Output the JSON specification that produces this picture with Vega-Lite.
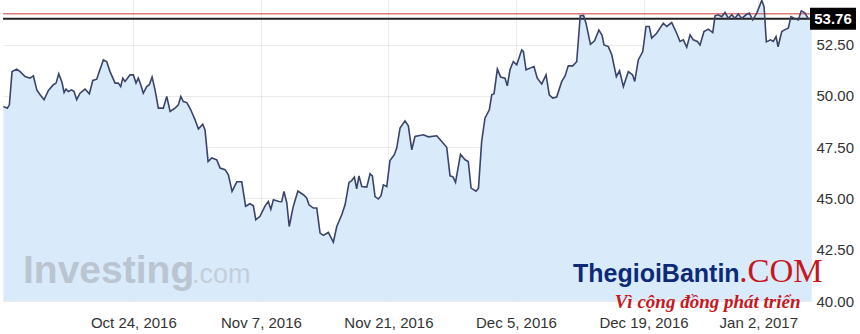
{
  "$schema": "https://vega.github.io/schema/vega-lite/v6.json",
  "width": 809,
  "height": 301,
  "autosize": {"type": "none"},
  "padding": {"left": 3, "top": 0, "right": 48, "bottom": 33},
  "background": "#ffffff",
  "config": {
    "view": {"stroke": null},
    "font": "Liberation Sans",
    "axis": {"labelFont": "Liberation Sans", "labelFontSize": 15, "labelColor": "#333333", "domain": false, "ticks": false, "gridColor": "#000000", "gridOpacity": 0.08, "title": null}
  },
  "datasets": {
    "one": [{}],
    "price": [
      {"d":-10.19,"v":49.48},{"d":-9.88,"v":49.40},{"d":-9.72,"v":49.56},{"d":-9.51,"v":51.18},{"d":-9.14,"v":51.30},{"d":-8.88,"v":51.18},{"d":-8.49,"v":50.94},{"d":-8.10,"v":50.86},{"d":-7.84,"v":50.97},{"d":-7.57,"v":50.29},
      {"d":-7.31,"v":50.05},{"d":-7.00,"v":49.81},{"d":-6.66,"v":50.26},{"d":-6.27,"v":50.54},{"d":-6.06,"v":50.62},{"d":-5.85,"v":51.07},{"d":-5.59,"v":50.65},{"d":-5.43,"v":50.16},{"d":-5.28,"v":50.33},{"d":-5.10,"v":50.21},
      {"d":-4.83,"v":50.29},{"d":-4.65,"v":50.21},{"d":-4.44,"v":49.81},{"d":-4.18,"v":50.13},{"d":-3.79,"v":50.33},{"d":-3.45,"v":50.10},{"d":-3.18,"v":50.75},{"d":-2.87,"v":50.81},{"d":-2.67,"v":51.18},{"d":-2.35,"v":51.75},
      {"d":-2.09,"v":51.67},{"d":-1.83,"v":51.18},{"d":-1.43,"v":50.62},{"d":-1.18,"v":50.62},{"d":-0.99,"v":50.45},{"d":-0.83,"v":50.86},{"d":-0.65,"v":50.70},{"d":-0.26,"v":51.02},{"d":0.00,"v":51.02},{"d":0.21,"v":50.62},
      {"d":0.39,"v":50.86},{"d":0.58,"v":50.54},{"d":0.78,"v":50.13},{"d":1.05,"v":50.45},{"d":1.25,"v":50.54},{"d":1.47,"v":50.91},{"d":1.70,"v":50.29},{"d":1.96,"v":49.40},{"d":2.35,"v":49.40},{"d":2.62,"v":49.97},
      {"d":2.88,"v":49.24},{"d":3.27,"v":49.40},{"d":3.53,"v":49.56},{"d":3.72,"v":49.97},{"d":3.92,"v":49.72},{"d":4.19,"v":49.67},{"d":4.50,"v":49.32},{"d":4.84,"v":48.83},{"d":5.10,"v":48.38},{"d":5.44,"v":48.62},
      {"d":5.62,"v":48.34},{"d":5.86,"v":46.80},{"d":6.15,"v":46.97},{"d":6.54,"v":46.88},{"d":6.80,"v":46.48},{"d":7.19,"v":46.40},{"d":7.45,"v":46.15},{"d":7.74,"v":45.34},{"d":8.11,"v":45.81},{"d":8.50,"v":45.81},
      {"d":8.80,"v":44.62},{"d":9.15,"v":44.74},{"d":9.41,"v":44.64},{"d":9.60,"v":43.96},{"d":9.93,"v":44.13},{"d":10.33,"v":44.64},{"d":10.58,"v":44.85},{"d":10.78,"v":44.47},{"d":10.98,"v":44.93},{"d":11.42,"v":44.85},
      {"d":11.63,"v":44.84},{"d":11.81,"v":45.34},{"d":12.03,"v":44.79},{"d":12.22,"v":43.63},{"d":12.54,"v":44.61},{"d":12.90,"v":45.36},{"d":13.33,"v":45.18},{"d":13.59,"v":45.02},{"d":13.77,"v":44.69},{"d":14.11,"v":44.53},
      {"d":14.38,"v":44.53},{"d":14.64,"v":43.31},{"d":14.90,"v":43.20},{"d":15.29,"v":43.34},{"d":15.68,"v":42.87},{"d":15.95,"v":43.63},{"d":16.34,"v":44.20},{"d":16.60,"v":44.69},{"d":16.91,"v":45.78},{"d":17.12,"v":45.87},
      {"d":17.33,"v":46.04},{"d":17.51,"v":45.46},{"d":17.69,"v":46.10},{"d":17.91,"v":45.58},{"d":18.30,"v":45.55},{"d":18.56,"v":46.20},{"d":18.74,"v":46.10},{"d":18.95,"v":45.09},{"d":19.21,"v":44.97},{"d":19.42,"v":45.13},
      {"d":19.60,"v":45.66},{"d":19.87,"v":45.58},{"d":20.12,"v":46.85},{"d":20.46,"v":47.13},{"d":20.65,"v":47.45},{"d":20.91,"v":48.43},{"d":21.30,"v":48.78},{"d":21.56,"v":48.54},{"d":21.83,"v":47.37},{"d":22.08,"v":48.02},
      {"d":22.74,"v":48.10},{"d":23.13,"v":48.00},{"d":23.79,"v":48.05},{"d":24.18,"v":47.77},{"d":24.57,"v":47.49},{"d":24.83,"v":46.10},{"d":25.06,"v":46.05},{"d":25.26,"v":45.78},{"d":25.65,"v":47.15},{"d":26.01,"v":46.88},
      {"d":26.26,"v":46.80},{"d":26.48,"v":45.50},{"d":26.87,"v":45.35},{"d":27.06,"v":45.50},{"d":27.31,"v":47.78},{"d":27.57,"v":48.91},{"d":27.91,"v":49.32},{"d":28.10,"v":50.05},{"d":28.28,"v":50.10},{"d":28.54,"v":51.30},
      {"d":28.80,"v":50.91},{"d":29.14,"v":50.86},{"d":29.32,"v":50.49},{"d":29.53,"v":51.27},{"d":29.79,"v":51.67},{"d":30.06,"v":51.51},{"d":30.45,"v":52.24},{"d":30.58,"v":52.16},{"d":30.79,"v":51.27},{"d":31.10,"v":51.35},
      {"d":31.41,"v":51.43},{"d":31.67,"v":50.86},{"d":32.02,"v":50.58},{"d":32.36,"v":51.02},{"d":32.61,"v":50.05},{"d":32.88,"v":49.89},{"d":33.19,"v":49.94},{"d":33.59,"v":50.70},{"d":33.85,"v":50.97},{"d":34.10,"v":51.46},
      {"d":34.45,"v":51.46},{"d":34.76,"v":51.66},{"d":35.04,"v":53.90},{"d":35.30,"v":53.92},{"d":35.49,"v":53.54},{"d":35.84,"v":52.51},{"d":36.16,"v":52.68},{"d":36.50,"v":53.21},{"d":36.75,"v":52.95},{"d":36.90,"v":52.48},
      {"d":37.24,"v":52.40},{"d":37.51,"v":52.00},{"d":37.87,"v":50.93},{"d":38.12,"v":51.22},{"d":38.42,"v":50.45},{"d":38.81,"v":51.18},{"d":39.15,"v":51.02},{"d":39.31,"v":50.70},{"d":39.59,"v":51.75},{"d":39.94,"v":52.16},
      {"d":40.20,"v":53.38},{"d":40.45,"v":53.38},{"d":40.64,"v":52.81},{"d":41.03,"v":53.05},{"d":41.29,"v":53.30},{"d":41.55,"v":53.54},{"d":41.82,"v":53.38},{"d":42.21,"v":53.57},{"d":42.60,"v":53.05},{"d":42.86,"v":52.65},
      {"d":43.12,"v":52.73},{"d":43.39,"v":52.37},{"d":43.65,"v":52.97},{"d":43.90,"v":52.73},{"d":44.22,"v":52.65},{"d":44.43,"v":52.48},{"d":44.74,"v":53.13},{"d":45.08,"v":53.25},{"d":45.43,"v":53.08},{"d":45.61,"v":53.90},
      {"d":45.86,"v":53.95},{"d":46.13,"v":53.86},{"d":46.39,"v":54.06},{"d":46.65,"v":53.78},{"d":46.92,"v":53.95},{"d":47.17,"v":53.78},{"d":47.43,"v":53.99},{"d":47.70,"v":53.78},{"d":48.04,"v":53.95},{"d":48.29,"v":54.03},
      {"d":48.56,"v":53.70},{"d":48.88,"v":54.03},{"d":49.27,"v":54.65},{"d":49.45,"v":54.35},{"d":49.63,"v":52.63},{"d":49.96,"v":52.73},{"d":50.18,"v":52.65},{"d":50.39,"v":52.89},{"d":50.55,"v":52.39},{"d":50.84,"v":53.13},
      {"d":51.13,"v":53.24},{"d":51.35,"v":53.30},{"d":51.56,"v":53.86},{"d":51.92,"v":53.75},{"d":52.14,"v":53.70},{"d":52.37,"v":54.14},{"d":52.64,"v":54.04},{"d":52.90,"v":53.78},{"d":53.19,"v":53.76}
    ]
  },
  "layer": [
    {
      "data": {"name": "price"},
      "mark": {"type": "area", "color": "#d9eafb", "clip": true},
      "encoding": {
        "x": {"field": "d", "type": "quantitative", "scale": {"domain": [-10.22, 53.21], "nice": false, "zero": false},
          "axis": {"orient": "bottom", "values": [0, 10, 20, 30, 40, 49], "grid": true, "labelPadding": 14, "labelFlush": false, "labelOverlap": false,
            "labelExpr": "datum.value == 0 ? 'Oct 24, 2016' : datum.value == 10 ? 'Nov 7, 2016' : datum.value == 20 ? 'Nov 21, 2016' : datum.value == 30 ? 'Dec 5, 2016' : datum.value == 40 ? 'Dec 19, 2016' : 'Jan 2, 2017'"}},
        "y": {"field": "v", "type": "quantitative", "scale": {"domain": [40, 54.67], "nice": false, "zero": false},
          "axis": {"orient": "right", "values": [40, 42.5, 45, 47.5, 50, 52.5], "format": ".2f", "grid": true, "labelPadding": 4, "labelBaseline": "middle"}}
      }
    },
    {
      "data": {"name": "one"},
      "mark": {"type": "text", "text": "Investing", "font": "Liberation Sans", "fontWeight": "bold", "fontSize": 39, "color": "#b3bcc7", "opacity": 0.8, "align": "left", "baseline": "alphabetic"},
      "encoding": {"x": {"datum": -8.65, "type": "quantitative"}, "y": {"datum": 40.89, "type": "quantitative"}}
    },
    {
      "data": {"name": "one"},
      "mark": {"type": "text", "text": ".com", "font": "Liberation Sans", "fontSize": 27, "color": "#c0c8d2", "opacity": 0.8, "align": "left", "baseline": "alphabetic"},
      "encoding": {"x": {"datum": 4.6, "type": "quantitative"}, "y": {"datum": 40.89, "type": "quantitative"}}
    },
    {
      "data": {"name": "one"},
      "mark": {"type": "rule", "color": "#e07a7a", "strokeWidth": 1.5},
      "encoding": {"y": {"datum": 54.0, "type": "quantitative"}}
    },
    {
      "data": {"name": "one"},
      "mark": {"type": "rule", "color": "#222222", "strokeWidth": 2},
      "encoding": {"y": {"datum": 53.76, "type": "quantitative"}}
    },
    {
      "data": {"name": "price"},
      "mark": {"type": "line", "color": "#3b4468", "strokeWidth": 1.6, "clip": true},
      "encoding": {
        "x": {"field": "d", "type": "quantitative"},
        "y": {"field": "v", "type": "quantitative"}
      }
    },
    {
      "data": {"name": "one"},
      "mark": {"type": "point", "shape": "M-1,-0.48L1,-0.48L1,0.48L-1,0.48Z", "size": 2116, "filled": true, "color": "#000000", "opacity": 1, "xOffset": 21},
      "encoding": {"x": {"datum": 53.21, "type": "quantitative"}, "y": {"datum": 53.76, "type": "quantitative"}}
    },
    {
      "data": {"name": "one"},
      "mark": {"type": "text", "text": "53.76", "font": "Liberation Sans", "fontWeight": "bold", "fontSize": 15, "color": "#ffffff", "align": "center", "baseline": "middle", "dx": 21},
      "encoding": {"x": {"datum": 53.21, "type": "quantitative"}, "y": {"datum": 53.76, "type": "quantitative"}}
    },
    {
      "data": {"name": "one"},
      "mark": {"type": "text", "text": "ThegioiBantin", "font": "Liberation Sans", "fontWeight": "bold", "fontSize": 25, "color": "#0c2a78", "align": "left", "baseline": "alphabetic"},
      "encoding": {"x": {"datum": 34.47, "type": "quantitative"}, "y": {"datum": 40.94, "type": "quantitative"}}
    },
    {
      "data": {"name": "one"},
      "mark": {"type": "text", "text": ".COM", "font": "Liberation Serif", "fontSize": 33, "color": "#c8161d", "align": "left", "baseline": "alphabetic"},
      "encoding": {"x": {"datum": 47.5, "type": "quantitative"}, "y": {"datum": 40.94, "type": "quantitative"}}
    },
    {
      "data": {"name": "one"},
      "mark": {"type": "text", "text": "Vì cộng đồng phát triển", "font": "Liberation Serif", "fontStyle": "italic", "fontWeight": "bold", "fontSize": 19, "color": "#c8161d", "align": "left", "baseline": "alphabetic"},
      "encoding": {"x": {"datum": 37.74, "type": "quantitative"}, "y": {"datum": 39.64, "type": "quantitative"}}
    }
  ]
}
